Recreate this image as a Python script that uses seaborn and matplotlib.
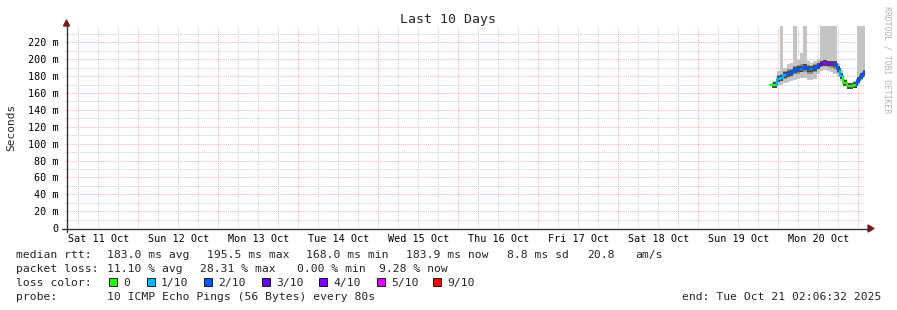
import numpy as np
import pandas as pd
import matplotlib
matplotlib.use("Agg")
import matplotlib.pyplot as plt
import matplotlib.dates as mdates
import seaborn as sns
from matplotlib.lines import Line2D
from matplotlib.patches import Polygon, Rectangle

# ---------------- data ----------------
t_first = pd.Timestamp("2025-10-19 22:00")
hour_offset = list(range(29))
median_ms = [169, 170, 177, 178, 181, 183, 184, 187, 188, 189, 191, 189, 188, 190,
             192, 195, 195.5, 195, 195, 194, 188, 180, 172, 168, 168, 170, 175, 180, 184]
loss_pings = [0, 0, 1, 1, 1, 2, 2, 2, 2, 1, 2, 2, 1, 2,
              2, 3, 4, 4, 4, 2, 2, 1, 0, 0, 0, 0, 2, 2, 2]
ping_min = [168, 168, 170, 170, 172, 173, 174, 176, 177, 178, 178, 176, 175, 177,
            182, 186, 187, 186, 185, 183, 180, 174, 168, 166, 166, 167, 170, 175, 178]
ping_q1 = [168.5, 169, 174, 175, 177, 179, 180, 182, 183, 185, 185, 183, 183, 185,
           188, 191, 192, 191, 190, 189, 184, 177, 170, 167, 167, 168.5, 173, 178, 181]
ping_q3 = [170, 172, 181, 183, 186, 188, 189, 192, 193, 194, 195, 193, 192, 194,
           196, 198, 198, 198, 198, 197, 191, 183, 174, 169.5, 169.5, 172, 178, 183, 187]
ping_max = [171, 174, 186, 240, 190, 194, 196, 240, 199, 207, 240, 198, 196, 198,
            200, 240, 240, 240, 240, 240, 195, 187, 177, 171, 171, 174, 240, 240, 240]

graph_start = pd.Timestamp("2025-10-11 02:06:32")
graph_end = pd.Timestamp("2025-10-21 02:06:32")
day_labels = ["Sat 11 Oct", "Sun 12 Oct", "Mon 13 Oct", "Tue 14 Oct", "Wed 15 Oct",
              "Thu 16 Oct", "Fri 17 Oct", "Sat 18 Oct", "Sun 19 Oct", "Mon 20 Oct"]
y_ticks = [0, 20, 40, 60, 80, 100, 120, 140, 160, 180, 200, 220]
y_tick_labels = ["0", "20 m", "40 m", "60 m", "80 m", "100 m", "120 m", "140 m",
                 "160 m", "180 m", "200 m", "220 m"]

loss_levels = [0, 1, 2, 3, 4, 5, 9]
loss_labels = ["0", "1/10", "2/10", "3/10", "4/10", "5/10", "9/10"]
loss_colors = ["#26ff00", "#00b8ff", "#0059ff", "#5e00ff", "#7e00ff", "#dd00ff", "#ff0000"]

rtt_stats = ["183.0 ms avg", "195.5 ms max", "168.0 ms min", "183.9 ms now",
             "8.8 ms sd", "20.8", "am/s"]
loss_stats = ["11.10 % avg", "28.31 % max", "0.00 % min", "9.28 % now"]
probe_text = "10 ICMP Echo Pings (56 Bytes) every 80s"
end_text = "end: Tue Oct 21 02:06:32 2025"

# ---------------- layout helpers ----------------
W, H = 897, 310
def fx(px):
    return px / W
def fy(py):
    return 1 - py / H

sns.set_theme(style="white")
plt.rcParams["font.family"] = ["DejaVu Sans Mono", "DejaVu Sans"]

fig = plt.figure(figsize=(W / 100, H / 100), dpi=100, facecolor="white")
ax = fig.add_axes([65.3 / W, 82 / H, 800 / W, 202 / H])
ax.set_facecolor("white")

times = t_first + pd.to_timedelta(hour_offset, unit="h")
x = mdates.date2num(times.to_pydatetime())
half = 0.5 / 24.0
x0 = mdates.date2num(graph_start.to_pydatetime())
x1 = mdates.date2num(graph_end.to_pydatetime())
ax.set_xlim(x0, x1)
ax.set_ylim(0, 239.5)

# grid
RED = "#ffb0b0"
GRAY = "#cdcdcd"
for v in range(10, 240, 10):
    major = v % 20 == 0
    ax.axhline(v, color=RED if major else GRAY, lw=0.75, ls=(0, (1, 1)), zorder=0.5)
six_h = pd.date_range("2025-10-11 06:00", "2025-10-21 00:00", freq="6h")
for t in six_h:
    major = t.hour == 0
    ax.axvline(mdates.date2num(t.to_pydatetime()), color=RED if major else GRAY,
               lw=0.75, ls=(0, (1, 1)), zorder=0.5)

# smoke
ax.fill_between(x, ping_min, ping_max, step="mid", color="#c4c4c4", lw=0, zorder=1)
ax.fill_between(x, ping_q1, ping_q3, step="mid", color="#8e8e8e", lw=0, zorder=1.2)
med = np.array(median_ms, dtype=float)
ax.fill_between(x, med - 3.5, med + 3.5, step="mid", color="#4a4a4a", lw=0, zorder=1.4)

# median line coloured by loss (step segments)
rows = []
for i, (xi, m, l) in enumerate(zip(x, median_ms, loss_pings)):
    prev = median_ms[i - 1] if i > 0 else m
    lab = loss_labels[loss_levels.index(l)]
    rows += [(i, xi - half, prev, lab), (i, xi - half, m, lab), (i, xi + half, m, lab)]
seg_df = pd.DataFrame(rows, columns=["seg", "x", "ms", "loss"])
palette = dict(zip(loss_labels, loss_colors))
sns.lineplot(data=seg_df, x="x", y="ms", hue="loss", units="seg", estimator=None,
             sort=False, palette=palette, legend=False, lw=1.6, ax=ax, zorder=3)

# ticks
noons = [mdates.date2num((pd.Timestamp("2025-10-11 12:00") + pd.Timedelta(days=k)).to_pydatetime())
         for k in range(len(day_labels))]
ax.set_xticks(noons, day_labels)
ax.set_yticks(y_ticks, y_tick_labels)
ax.tick_params(axis="both", length=0, labelsize=7.3, colors="black")
ax.tick_params(axis="y", pad=5)
ax.tick_params(axis="x", pad=4)
ax.set_xlabel("")
ax.set_ylabel("")
for s in ax.spines.values():
    s.set_visible(False)

# axis lines with arrows
fig.add_artist(Line2D([fx(66.5), fx(66.5)], [fy(232), fy(24)], color="#333333", lw=1.0))
fig.add_artist(Line2D([fx(62), fx(870)], [fy(228.5), fy(228.5)], color="#333333", lw=1.0))
fig.add_artist(Polygon([[fx(63.5), fy(26)], [fx(69.5), fy(26)], [fx(66.5), fy(20)]],
                       closed=True, color="#801818", transform=fig.transFigure))
fig.add_artist(Polygon([[fx(868), fy(225)], [fx(868), fy(232)], [fx(874), fy(228.5)]],
                       closed=True, color="#801818", transform=fig.transFigure))

# titles
fig.text(fx(448), fy(19), "Last 10 Days", ha="center", va="center", fontsize=9.5)
fig.text(fx(11), fy(127), "Seconds", rotation=90, ha="center", va="center", fontsize=8)
fig.text(fx(887), fy(60), "RRDTOOL / TOBI OETIKER", rotation=270, ha="center",
         va="center", fontsize=5.9, color="#b4b4b4")

# legend rows
fs = 8.2
fig.text(fx(16), fy(258), "median rtt:", fontsize=fs, va="baseline")
for xp, s in zip([107, 207, 306, 406, 507, 587, 635], rtt_stats):
    fig.text(fx(xp), fy(258), s, fontsize=fs, va="baseline")
fig.text(fx(16), fy(272), "packet loss:", fontsize=fs, va="baseline")
for xp, s in zip([107, 200, 297, 379], loss_stats):
    fig.text(fx(xp), fy(272), s, fontsize=fs, va="baseline")
fig.text(fx(16), fy(286), "loss color:", fontsize=fs, va="baseline")
box_x = [109, 147, 204, 262, 319, 377, 433]
for bx, lab, col in zip(box_x, loss_labels, loss_colors):
    fig.add_artist(Rectangle((fx(bx), fy(286)), 8 / W, 8 / H, facecolor=col,
                             edgecolor="black", lw=0.6, transform=fig.transFigure))
    fig.text(fx(bx + 14), fy(286), lab, fontsize=fs, va="baseline")
fig.text(fx(16), fy(300), "probe:", fontsize=fs, va="baseline")
fig.text(fx(107), fy(300), probe_text, fontsize=fs, va="baseline")
fig.text(fx(881), fy(300), end_text, fontsize=fs, va="baseline", ha="right")

fig.savefig("out.png", dpi=100, facecolor="white")
